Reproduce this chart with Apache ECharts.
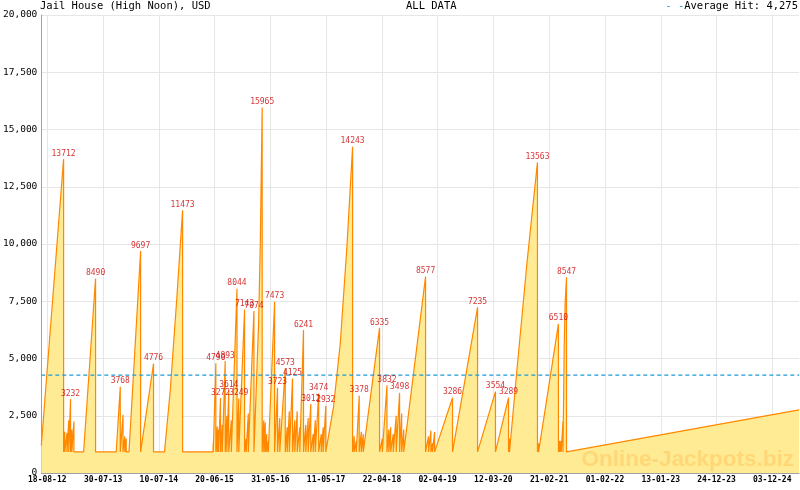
<!DOCTYPE html>
<html><head><meta charset="utf-8">
<script src="https://cdn.jsdelivr.net/npm/echarts@6/dist/echarts.min.js"></script>
<style>html,body{margin:0;padding:0;background:#fff}#c{width:800px;height:490px}</style>
</head><body><div id="c"></div>
<script>
const chartTitle = 'Jail House (High Noon), USD';
const chartSubtitle = 'ALL DATA';
const averageHit = 4275;
const watermark = 'Online-Jackpots.biz';
const tickLabels = ['18-08-12','30-07-13','10-07-14','20-06-15','31-05-16','11-05-17','22-04-18','02-04-19','12-03-20','21-02-21','01-02-22','13-01-23','24-12-23','03-12-24'];
// days counted from 2012-08-18
const axisMinDay = -37, axisMaxDay = 4656;
const days = [
 -37,101,101,108,108,122,122,133,133,144,144,152,152,165,165,225,299,299,427,452,452,469,469,480,480,489,489,506,578,578,658,658,726,762,803,838,838,1026,
 1028,1028,1044,1044,1053,1053,1061,1061,1073,1073,1084,1084,1102,1102,1112,1112,1124,1124,1140,1140,1175,1175,1186,1186,1222,1222,1232,1232,1245,1245,1280,1280,1309,1319,1331,1331,1341,1341,1350,1350,1359,1359,1369,1369,1408,1408,
 1426,1426,1440,1440,1474,1474,1486,1486,1499,1499,1519,1519,1533,1533,1548,1548,1564,1564,1587,1587,1601,1601,1616,1616,1632,1632,1647,1647,1660,1660,1681,1681,1697,1697,1709,1709,1725,1725,1773,1815,1856,1877,1891,1891,
 1901,1901,1914,1914,1932,1932,1945,1945,1957,1957,2058,2058,2075,2075,2104,2104,2115,2115,2127,2127,2143,2143,2161,2161,2182,2182,2195,2195,2208,2208,2343,2343,
 2361,2361,2376,2376,2386,2386,2399,2399,2510,2510,2665,2665,2776,2776,2857,2857,2863,2863,2909,2971,3036,3036,3043,3043,3166,3166,3174,3174,3183,3183,3194,3194,3202,3208,3216,3216,3227,4656
];
const values = [
 1200,13712,920,1800,920,1750,920,2300,920,3232,920,1900,920,2250,920,920,8490,920,920,3768,920,2540,920,1600,920,1500,920,920,9697,920,4776,920,920,3640,7710,11473,920,920,
 1330,920,4790,920,2030,920,1900,920,3272,920,2100,920,4893,920,2500,920,3614,920,2300,920,8044,920,3249,920,7143,920,1500,920,2600,920,7074,920,6560,9900,15965,920,2300,920,2200,920,1700,920,1400,920,7473,920,
 3723,920,2400,920,4573,920,2000,920,2700,920,4125,920,2300,920,2700,920,2000,920,6241,920,2100,920,2400,920,3012,920,1700,920,2300,920,3474,920,1700,920,2000,920,2932,920,2900,5690,9900,12520,14243,920,
 1600,920,1400,920,3378,920,1800,920,1700,920,6335,920,1500,920,3832,920,1900,920,2000,920,1700,920,2500,920,3498,920,2600,920,1900,920,8577,920,
 1600,920,1850,920,1300,920,1790,920,3286,920,7235,920,3554,920,3289,920,1500,920,4510,9170,13563,920,1300,920,6510,920,1400,920,1400,920,2250,920,5680,7500,8547,920,920,2760
];

const DAY = 86400000;
const base = Date.UTC(2012, 7, 18);
const toMs = d => base + d * DAY;
const pad = n => (n < 10 ? '0' : '') + n;
const fmtDate = v => { const d = new Date(v); return pad(d.getUTCDate()) + '-' + pad(d.getUTCMonth() + 1) + '-' + pad(d.getUTCFullYear() % 100); };
const majorTicks = tickLabels.map(s => { const p = s.split('-').map(Number); return Date.UTC(2000 + p[2], p[1] - 1, p[0]); });
const xMin = toMs(axisMinDay), xMax = toMs(axisMaxDay);
const minorTicks = [];
for (let i = 0; i < majorTicks.length - 1; i++) {
  const step = (majorTicks[i + 1] - majorTicks[i]) / 7;
  for (let k = 1; k < 7; k++) minorTicks.push(majorTicks[i] + k * step);
}
{
  const n = majorTicks.length;
  const step = (majorTicks[n - 1] - majorTicks[n - 2]) / 7;
  for (let t = majorTicks[n - 1] + step; t < xMax; t += step) minorTicks.push(t);
}
const lineData = days.map((d, i) => [toMs(d), values[i]]);
const peakData = [];
for (let i = 0; i < values.length - 1; i++) {
  if (values[i] >= 2900 && values[i + 1] < values[i]) peakData.push([toMs(days[i]), values[i]]);
}
const avgColor = '#1f9ad6';
const mono = 'DejaVu Sans Mono';
const chart = echarts.init(document.getElementById('c'), null, { renderer: 'canvas' });
chart.setOption({
  animation: false,
  backgroundColor: '#fff',
  grid: { left: 41, right: 1, top: 15, bottom: 17, containLabel: false },
  xAxis: [{
    type: 'value', min: xMin, max: xMax,
    axisLine: { show: true, lineStyle: { color: '#a0a0a0' } },
    axisTick: { show: true, inside: true, length: 6, customValues: majorTicks, lineStyle: { color: '#a0a0a0' } },
    axisLabel: { customValues: majorTicks, formatter: fmtDate, fontFamily: mono, fontSize: 8, fontWeight: 'bold', color: '#000', margin: 3 },
    splitLine: { show: true, lineStyle: { color: '#e6e6e6' } }
  }, {
    type: 'value', min: xMin, max: xMax, position: 'bottom',
    axisLine: { show: false },
    axisTick: { show: true, inside: true, length: 4, customValues: minorTicks, lineStyle: { color: '#a0a0a0' } },
    axisLabel: { show: false },
    splitLine: { show: false }
  }],
  yAxis: {
    type: 'value', min: 0, max: 20000, interval: 2500,
    axisLine: { show: true, lineStyle: { color: '#a0a0a0' } },
    axisTick: { show: false },
    axisLabel: { formatter: v => v.toLocaleString('en-US'), fontFamily: mono, fontSize: 9.5, color: '#000', margin: 4 },
    splitLine: { show: true, lineStyle: { color: '#e6e6e6' } }
  },
  graphic: [
    { type: 'text', left: 40, top: 1, style: { text: chartTitle, font: '10.5px "DejaVu Sans Mono"', fill: '#000' } },
    { type: 'text', left: 406, top: 1, style: { text: chartSubtitle, font: '10.5px "DejaVu Sans Mono"', fill: '#000' } },
    { type: 'text', right: 2, top: 1, style: { text: '{d|- -}{t|Average Hit: ' + averageHit.toLocaleString('en-US') + '}', rich: { d: { fill: avgColor, font: '10.5px "DejaVu Sans Mono"' }, t: { fill: '#000', font: '10.5px "DejaVu Sans Mono"' } } } },
    { type: 'text', right: 6, bottom: 19, z: 100, style: { text: watermark, font: 'bold 22.5px "Liberation Sans"', fill: 'rgba(255,175,60,0.33)' } }
  ],
  series: [{
    type: 'line', data: lineData, showSymbol: false, symbol: 'none',
    lineStyle: { color: '#ff8800', width: 1.2 },
    areaStyle: { color: '#ffeb94', opacity: 1 },
    z: 2
  }, {
    type: 'line', data: [[xMin, averageHit], [xMax, averageHit]], showSymbol: false, symbol: 'none', silent: true,
    lineStyle: { color: avgColor, type: [4, 3], width: 1.2 },
    z: 4
  }, {
    type: 'scatter', data: peakData, symbolSize: 1, itemStyle: { color: 'transparent' }, silent: true,
    label: { show: true, position: 'top', distance: 1, formatter: p => String(p.value[1]), color: '#cc0000', fontFamily: mono, fontSize: 8 },
    z: 5
  }]
});
</script></body></html>
